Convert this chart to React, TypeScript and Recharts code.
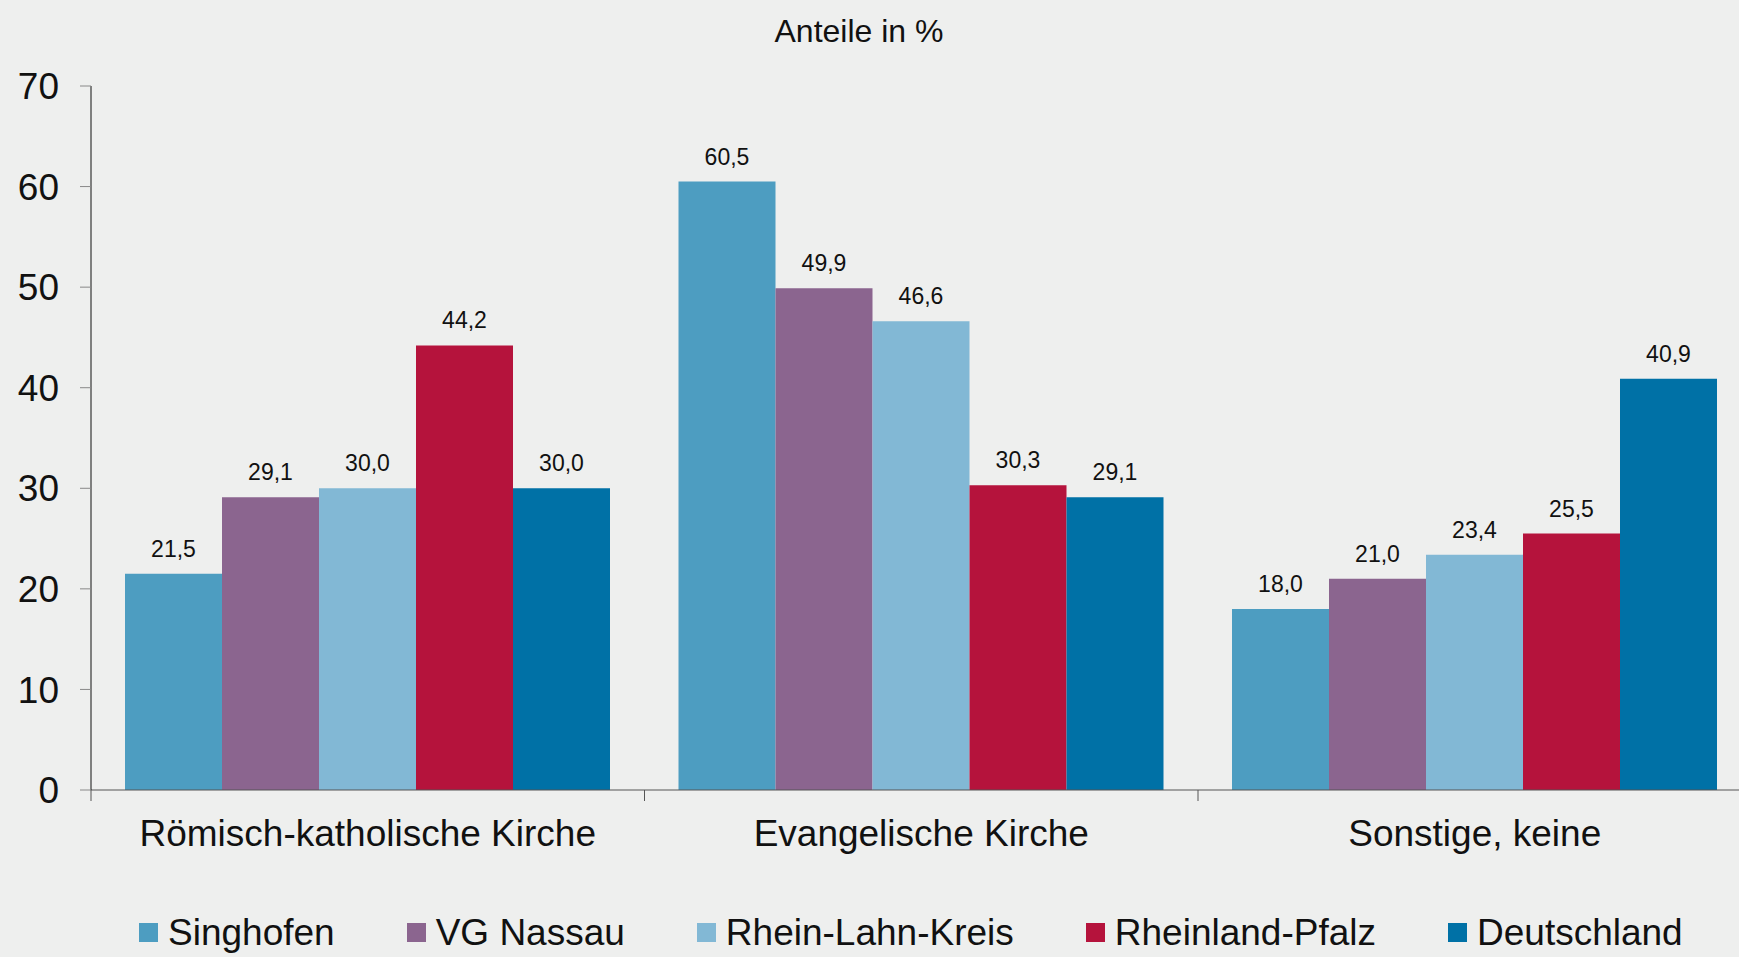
import { BarChart, Bar, XAxis, YAxis, Legend, LabelList } from 'recharts';

const categories = ['Römisch-katholische Kirche', 'Evangelische Kirche', 'Sonstige, keine'];
const singhofen = [21.5, 60.5, 18.0];
const vgNassau = [29.1, 49.9, 21.0];
const rheinLahnKreis = [30.0, 46.6, 23.4];
const rheinlandPfalz = [44.2, 30.3, 25.5];
const deutschland = [30.0, 29.1, 40.9];
const yTicks = [0, 10, 20, 30, 40, 50, 60, 70];

const series = [
  { key: 'singhofen', name: 'Singhofen', values: singhofen, color: '#4d9dc1' },
  { key: 'vgNassau', name: 'VG Nassau', values: vgNassau, color: '#8b658f' },
  { key: 'rheinLahnKreis', name: 'Rhein-Lahn-Kreis', values: rheinLahnKreis, color: '#82b8d5' },
  { key: 'rheinlandPfalz', name: 'Rheinland-Pfalz', values: rheinlandPfalz, color: '#b5133c' },
  { key: 'deutschland', name: 'Deutschland', values: deutschland, color: '#0071a6' },
];

const chartData = categories.map((cat, i) => {
  const row: Record<string, string | number> = { category: cat };
  series.forEach((s) => {
    row[s.key] = s.values[i];
  });
  return row;
});

const CHART_W = 1760;
const CHART_H = 957;
const MARGIN = { top: 86, right: 8.5, bottom: 0, left: 0 };
const Y_W = 91;
const TICK_SIZE = 11;
const TICK_MARGIN = 19;
const band = (CHART_W - MARGIN.left - MARGIN.right - Y_W) / categories.length;

const fmt = (v: any) => Number(v).toFixed(1).replace('.', ',');

function CategoryTick(props: any) {
  const { x, y, payload } = props;
  const axisY = y - TICK_SIZE - TICK_MARGIN;
  const left = x - band / 2;
  return (
    <g>
      <line x1={left} y1={axisY} x2={left} y2={axisY + TICK_SIZE} stroke="#555" strokeWidth={1} />
      <text x={x} y={y} dy="0.71em" textAnchor="middle" fontSize={37} fill="#111">
        {payload.value}
      </text>
    </g>
  );
}

function LegendContent() {
  return (
    <div style={{ display: 'flex', alignItems: 'center', height: 50, gap: 72 }}>
      {series.map((s) => (
        <div key={s.key} style={{ display: 'flex', alignItems: 'center' }}>
          <span style={{ width: 19, height: 19, background: s.color, display: 'inline-block', marginRight: 10 }} />
          <span style={{ fontSize: 37, lineHeight: '37px', color: '#111', whiteSpace: 'nowrap' }}>{s.name}</span>
        </div>
      ))}
    </div>
  );
}

export default function App() {
  return (
    <div
      style={{
        position: 'fixed',
        top: 0,
        left: 0,
        width: 1739,
        height: 957,
        overflow: 'hidden',
        background: '#eeefee',
        fontFamily: '"Liberation Sans", Arial, sans-serif',
      }}
    >
      <div
        style={{
          position: 'absolute',
          top: 15,
          left: 0,
          width: 1718,
          textAlign: 'center',
          fontSize: 32,
          lineHeight: '32px',
          color: '#111',
          zIndex: 2,
        }}
      >
        Anteile in %
      </div>
      <BarChart
        width={CHART_W}
        height={CHART_H}
        data={chartData}
        margin={MARGIN}
        barCategoryGap={34}
        barGap={0}
      >
        <XAxis
          dataKey="category"
          height={117}
          tickSize={TICK_SIZE}
          tickMargin={TICK_MARGIN}
          tickLine={false}
          axisLine={{ stroke: '#555' }}
          tick={<CategoryTick />}
          interval={0}
        />
        <YAxis
          width={Y_W}
          domain={[0, 70]}
          ticks={yTicks}
          tickSize={TICK_SIZE}
          tickMargin={21}
          axisLine={{ stroke: '#111' }}
          tickLine={{ stroke: '#888' }}
          tick={{ fontSize: 37, fill: '#111' }}
        />
        <Legend
          verticalAlign="bottom"
          content={<LegendContent />}
          wrapperStyle={{ left: 139, bottom: 0, width: 1600, height: 50 }}
        />
        {series.map((s) => (
          <Bar key={s.key} dataKey={s.key} name={s.name} fill={s.color} isAnimationActive={false}>
            <LabelList
              dataKey={s.key}
              position="top"
              offset={17}
              formatter={fmt}
              style={{ fontSize: 23, fill: '#111' }}
            />
          </Bar>
        ))}
      </BarChart>
    </div>
  );
}
